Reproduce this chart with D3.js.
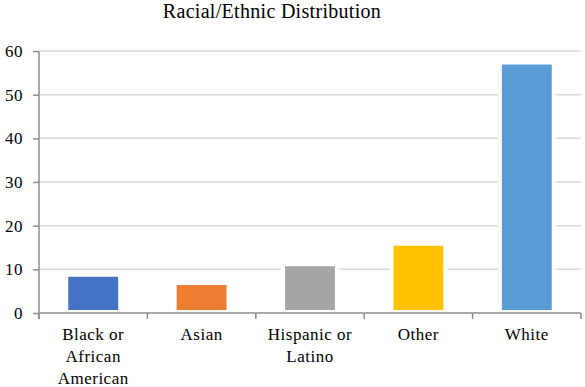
<!DOCTYPE html>
<html>
<head>
<meta charset="utf-8">
<script src="https://cdn.jsdelivr.net/npm/d3@7"></script>
<style>
  body { margin: 0; background: #fff; }
  svg text, svg tspan { font-family: "Liberation Serif", "Times New Roman", serif !important; fill: #000; }
</style>
</head>
<body>
<svg id="chart" width="585" height="387"></svg>
<script>
// Chart data
const categories = ["Black or African American", "Asian", "Hispanic or Latino", "Other", "White"];
const labelLines = [["Black or", "African", "American"], ["Asian"], ["Hispanic or", "Latino"], ["Other"], ["White"]];
const values = [8.3, 6.4, 10.7, 15.4, 56.9];
const barColors = ["#4472c4", "#ed7d31", "#a5a5a5", "#ffc000", "#5b9bd5"];
const yTicks = [0, 10, 20, 30, 40, 50, 60];

// Plot area
const LEFT = 39, RIGHT = 581, TOP = 51, BOTTOM = 313;
const FONT = "'Liberation Serif', 'Times New Roman', serif";

const svg = d3.select("#chart");

const x = d3.scaleBand().domain(categories).range([LEFT, RIGHT]).paddingInner(0.54).paddingOuter(0.27);
const y = d3.scaleLinear().domain([0, 60]).range([BOTTOM, TOP]);

// Title
svg.append("text")
  .attr("x", 272)
  .attr("y", 18)
  .attr("text-anchor", "middle")
  .attr("font-family", FONT)
  .style("font-size", "20px")
  .style("letter-spacing", "0.3px")
  .text("Racial/Ethnic Distribution");

// Gridlines
svg.append("g")
  .selectAll("line")
  .data(yTicks.filter(d => d > 0))
  .join("line")
  .attr("x1", LEFT)
  .attr("x2", RIGHT)
  .attr("y1", d => y(d))
  .attr("y2", d => y(d))
  .attr("stroke", "#d9d9d9")
  .attr("stroke-width", 1.5);

// Bars, with a white outline like the spreadsheet export
svg.append("g")
  .selectAll("rect")
  .data(values)
  .join("rect")
  .attr("x", (d, i) => x(categories[i]) - 2)
  .attr("y", d => y(d) - 2)
  .attr("width", x.bandwidth() + 4)
  .attr("height", d => BOTTOM - y(d) + 1)
  .attr("fill", (d, i) => barColors[i])
  .attr("stroke", "#fff")
  .attr("stroke-width", 4);

// Y axis
const yAxis = svg.append("g")
  .attr("transform", `translate(${LEFT},0)`)
  .call(d3.axisLeft(y).tickValues(yTicks).tickSize(6).tickPadding(10));
yAxis.attr("font-family", FONT).attr("font-size", 17);
yAxis.select(".domain").attr("d", `M-0,${TOP}V${BOTTOM + 6}`);
yAxis.selectAll("path, line").attr("stroke", "#8c8c8c").attr("stroke-width", 1.5);
yAxis.selectAll("text").attr("font-family", FONT).style("font-size", "17px").style("letter-spacing", "0.5px");

// X axis: ticks at band edges
const edges = categories.map(c => x(c) - x.step() * x.paddingInner() / 2).concat([RIGHT]);
svg.append("line")
  .attr("x1", LEFT).attr("x2", RIGHT)
  .attr("y1", BOTTOM).attr("y2", BOTTOM)
  .attr("stroke", "#8c8c8c").attr("stroke-width", 1.5);
svg.append("g")
  .selectAll("line")
  .data(edges)
  .join("line")
  .attr("x1", d => d).attr("x2", d => d)
  .attr("y1", BOTTOM).attr("y2", BOTTOM + 6)
  .attr("stroke", "#8c8c8c").attr("stroke-width", 1.5);

// Category labels
const labels = svg.append("g")
  .attr("font-family", FONT)
  .selectAll("text")
  .data(categories)
  .join("text")
  .attr("text-anchor", "middle")
  .attr("font-family", FONT)
  .style("font-size", "17px")
  .style("letter-spacing", "0.5px")
  .attr("transform", c => `translate(${x(c) + x.bandwidth() / 2},${BOTTOM + 27})`);
labels.selectAll("tspan")
  .data((c, i) => labelLines[i])
  .join("tspan")
  .attr("x", 0)
  .attr("y", (d, i) => i * 22)
  .text(d => d);
</script>
</body>
</html>
